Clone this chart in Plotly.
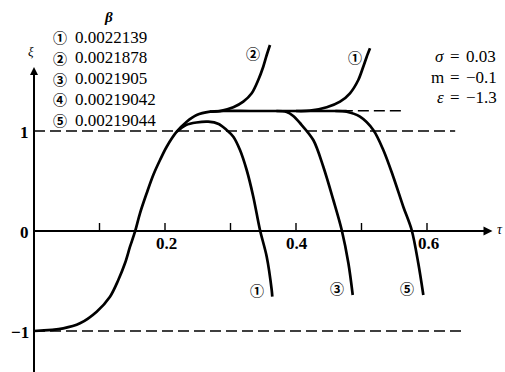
import plotly.graph_objects as go

# ---------------- data ----------------
trunk_x = [0.0, 0.0447, 0.0702, 0.0957, 0.116, 0.1287, 0.1389, 0.1466, 0.1542, 0.1618, 0.172, 0.1821,
           0.1924, 0.2026, 0.2179, 0.2331, 0.2484, 0.2687, 0.289, 0.33, 0.40, 0.4774]
trunk_y = [-1.0, -0.973, -0.923, -0.807, -0.657, -0.49, -0.323, -0.157, -0.007, 0.177, 0.377, 0.56,
           0.71, 0.843, 0.993, 1.093, 1.16, 1.193, 1.20, 1.20, 1.20, 1.20]

c1_low_x = [0.2179, 0.232, 0.248, 0.266, 0.282, 0.294, 0.3043, 0.3145, 0.3247, 0.3348, 0.3450,
            0.3553, 0.3629, 0.3638]
c1_low_y = [0.993, 1.06, 1.085, 1.093, 1.07, 1.01, 0.943, 0.81, 0.61, 0.343, 0.01,
            -0.257, -0.59, -0.657]

c2_x = [0.2687, 0.284, 0.3043, 0.3195, 0.3324, 0.3424, 0.350, 0.3553, 0.3603]
c2_y = [1.193, 1.20, 1.237, 1.293, 1.377, 1.51, 1.643, 1.76, 1.86]

c1_up_x = [0.40, 0.4214, 0.4469, 0.4672, 0.4824, 0.4951, 0.5027, 0.508, 0.513]
c1_up_y = [1.20, 1.203, 1.237, 1.293, 1.377, 1.51, 1.643, 1.743, 1.827]

c3_x = [0.37, 0.3858, 0.3958, 0.406, 0.4264, 0.4417, 0.457, 0.4698, 0.480, 0.4866]
c3_y = [1.20, 1.19, 1.15, 1.08, 0.91, 0.643, 0.31, 0.01, -0.323, -0.64]

c5_x = [0.46, 0.4774, 0.4977, 0.518, 0.5333, 0.5485, 0.5638, 0.5766, 0.5867, 0.5944]
c5_y = [1.20, 1.193, 1.143, 1.01, 0.81, 0.543, 0.243, 0.01, -0.323, -0.64]

legend_marks = ["①", "②", "③", "④", "⑤"]
legend_betas = ["0.0022139", "0.0021878", "0.0021905", "0.00219042", "0.00219044"]

x_ticks = [0.1, 0.2, 0.3, 0.4, 0.5, 0.6]
x_tick_labels = {0.2: "0.2", 0.4: "0.4", 0.6: "0.6"}
y_tick_vals = [1, 0, -1]
y_tick_labels = ["1", "0", "−1"]

plateau = 1.203
param_names = ["σ", "m", "ε"]
param_values = ["0.03", "−0.1", "−1.3"]

# ---------------- figure ----------------
W, H = 505, 372
X0, SX = 34, 655.0     # pixel of x=0, pixels per unit
Y0, SY = 231, 100.0    # pixel of y=0, pixels per unit
xr = [-X0 / SX, (W - X0) / SX]
yr = [(Y0 - H) / SY, Y0 / SY]

SERIF = "Liberation Serif, Times New Roman, Noto Sans CJK SC, serif"
CIRC = "Noto Sans CJK SC, DejaVu Sans, sans-serif"

fig = go.Figure()

def line(x, y, width=2.7, dash=None):
    fig.add_trace(go.Scatter(x=x, y=y, mode="lines", hoverinfo="skip",
                             line=dict(color="black", width=width, dash=dash,
                                       shape="spline" if dash is None and len(x) > 2 else "linear",
                                       smoothing=0.9)))

# dashed reference lines
DASH = "11px,5px"
line([0.0, 0.643], [1.0, 1.0], width=1.5, dash=DASH)
line([0.0, 0.658], [-1.0, -1.0], width=1.5, dash=DASH)
line([0.47, 0.563], [plateau, plateau], width=1.6, dash=DASH)

# axes
line([0.0, 0.69], [0.0, 0.0], width=2.0)
line([0.0, 0.0], [yr[0], 1.58], width=2.0)
for t in x_ticks:
    line([t, t], [0.0, 0.08], width=1.4)

# curves
for cx, cy in [(trunk_x, trunk_y), (c1_low_x, c1_low_y), (c2_x, c2_y),
               (c1_up_x, c1_up_y), (c3_x, c3_y), (c5_x, c5_y)]:
    line(cx, cy, width=2.7)

ann = []
# axis arrows
ann.append(dict(x=0.700, y=0.0, ax=0.66, ay=0.0, xref="x", yref="y", axref="x", ayref="y",
                showarrow=True, arrowhead=2, arrowsize=1.0, arrowwidth=1.8, arrowcolor="black", text=""))
ann.append(dict(x=0.0, y=1.64, ax=0.0, ay=1.45, xref="x", yref="y", axref="x", ayref="y",
                showarrow=True, arrowhead=2, arrowsize=0.8, arrowwidth=2.0, arrowcolor="black", text=""))

def px(xp, yp, text, size=17, family=SERIF, xanchor="center", yanchor="middle", bold=False, italic=False):
    if bold:
        text = "<b>" + text + "</b>"
    if italic:
        text = "<i>" + text + "</i>"
    ann.append(dict(x=xp / W, y=1 - yp / H, xref="paper", yref="paper", text=text, showarrow=False,
                    xanchor=xanchor, yanchor=yanchor, font=dict(family=family, size=size, color="black")))

# tick labels
for t, lab in x_tick_labels.items():
    px(X0 + t * SX + 1, 243, lab, size=17, bold=True)
for v, lab in zip(y_tick_vals, y_tick_labels):
    px(31, Y0 - v * SY + 1, lab, size=17, bold=True, xanchor="right")

# axis labels
px(495, 229, "τ", size=14, italic=True, xanchor="left")
px(31, 52, "ξ", size=13, italic=True)

# legend block
px(108, 17, "β", size=15, bold=True, italic=True)
for i, (m, b) in enumerate(zip(legend_marks, legend_betas)):
    yy = 37 + i * 20.8
    px(60, yy, m, size=14, family=CIRC, bold=True)
    px(73, yy, b, size=17, xanchor="left")

# curve labels
px(253, 53, "②", size=14, family=CIRC, bold=True)
px(355, 57, "①", size=14, family=CIRC, bold=True)
px(257, 290, "①", size=14, family=CIRC, bold=True)
px(337, 288, "③", size=14, family=CIRC, bold=True)
px(407, 288, "⑤", size=14, family=CIRC, bold=True)

# parameters
for i, (s, v) in enumerate(zip(param_names, param_values)):
    yy = 57 + i * 20
    px(446, yy, s, size=17, xanchor="right", italic=(s != "m"))
    px(455, yy, "=", size=17)
    px(464, yy, v, size=17, xanchor="left")

fig.update_layout(
    width=W, height=H, margin=dict(l=0, r=0, t=0, b=0),
    paper_bgcolor="white", plot_bgcolor="white", showlegend=False,
    xaxis=dict(range=xr, visible=False, fixedrange=True),
    yaxis=dict(range=yr, visible=False, fixedrange=True),
    annotations=ann,
)
fig.write_html("out.html", config={"displayModeBar": False},
               post_script="document.body.style.margin='0px';")
